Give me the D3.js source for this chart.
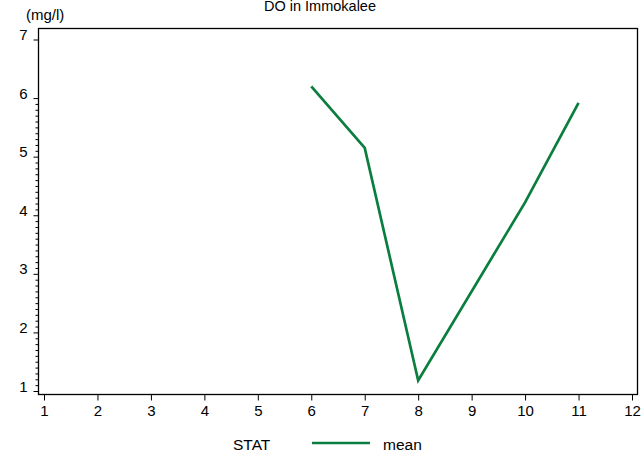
<!DOCTYPE html>
<html><head><meta charset="utf-8">
<script src="https://cdn.jsdelivr.net/npm/d3@7"></script>
<style>body{margin:0;background:#fff}text{font-family:"Liberation Sans",Arial,sans-serif;fill:#000}</style>
</head><body>
<svg id="c" width="642" height="457"></svg>
<script>
const months = [6, 7, 8, 10, 11];
const meanValues = [6.2, 5.15, 1.18, 4.22, 5.92];
const xTicks = [1,2,3,4,5,6,7,8,9,10,11,12];
const yTicks = [1,2,3,4,5,6,7];
const title = "DO in Immokalee";
const yLabel = "(mg/l)";
const legendTitle = "STAT";
const seriesName = "mean";

const svg = d3.select("#c");
const fL = 38.5, fR = 637.5, fT = 28.5, fB = 394.5;
const x = d3.scaleLinear().domain([1,12]).range([44, 632]);
const y = d3.scaleLinear().domain([1,7]).range([391, 39.5]);
const green = "#0a7e3e";
const fs = "15px";

svg.append("rect").attr("x",fL).attr("y",fT).attr("width",fR-fL).attr("height",fB-fT)
  .attr("fill","none").attr("stroke","#000").attr("stroke-width",1.3);

const xa = svg.append("g").attr("transform",`translate(0,${fB})`)
  .call(d3.axisBottom(x).tickValues(xTicks).tickSize(6).tickSizeOuter(0).tickPadding(5).tickFormat(d3.format("d")));
xa.select(".domain").remove();
xa.selectAll("text").style("font-size",fs);
xa.selectAll("line").attr("stroke","#000");

const minor = d3.range(10, 61).map(v=>v/10).filter(v=>Math.abs(v-Math.round(v))>1e-6);
const ym = svg.append("g").attr("transform",`translate(${fL},0)`)
  .call(d3.axisLeft(y).tickValues(minor).tickSize(3).tickSizeOuter(0).tickFormat(""));
ym.select(".domain").remove();
ym.selectAll("line").attr("stroke","#000");
const ya = svg.append("g").attr("transform",`translate(${fL},0)`)
  .call(d3.axisLeft(y).tickValues(yTicks).tickSize(5).tickSizeOuter(0).tickPadding(6).tickFormat(d3.format("d")));
ya.select(".domain").remove();
ya.selectAll("line").attr("stroke","#000");
ya.selectAll("text").style("font-size",fs).attr("dy","0.0em");

svg.append("path").datum(months.map((m,i)=>[m, meanValues[i]]))
  .attr("fill","none").attr("stroke",green).attr("stroke-width",2.7).attr("stroke-linejoin","miter")
  .attr("d", d3.line().x(d=>x(d[0])).y(d=>y(d[1])));

svg.append("text").attr("x",320).attr("y",10.5).attr("text-anchor","middle").style("font-size","14.5px").text(title);
svg.append("text").attr("x",26).attr("y",20).style("font-size",fs).text(yLabel);

svg.append("text").attr("x",233).attr("y",450).style("font-size","15.5px").text(legendTitle);
svg.append("line").attr("x1",312).attr("x2",370).attr("y1",443).attr("y2",443).attr("stroke",green).attr("stroke-width",2.7);
svg.append("text").attr("x",383).attr("y",450).style("font-size","15.5px").text(seriesName);
</script>
</body></html>
